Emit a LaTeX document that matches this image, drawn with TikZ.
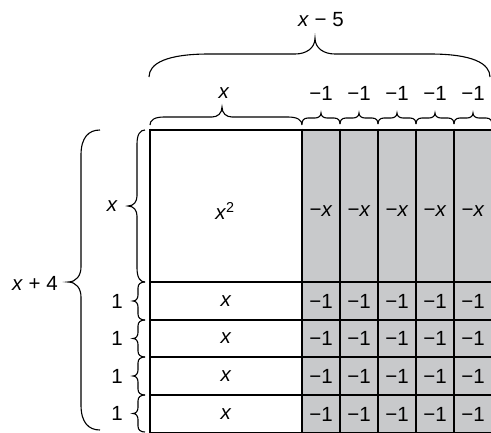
\documentclass[tikz,border=0pt]{standalone}
\usepackage{fontspec}
\setmainfont{Liberation Sans}
\definecolor{cellgray}{RGB}{200,201,203}
% horizontal brace, tip up: x1 x2 y0 xm f h w t
\newcommand{\hbr}[8]{%
  \draw[brc] (#1,#3) .. controls (#1,{#3-0.6*#5}) and ({#1+0.3*#7},{#3-#5}) .. ({#1+#7},{#3-#5})
    -- ({#4-#8},{#3-#5}) .. controls ({#4-0.45*#8},{#3-#5}) and (#4,{#3-#5-0.35*(#6-#5)}) .. (#4,{#3-#6})
    .. controls (#4,{#3-#5-0.35*(#6-#5)}) and ({#4+0.45*#8},{#3-#5}) .. ({#4+#8},{#3-#5})
    -- ({#2-#7},{#3-#5}) .. controls ({#2-0.3*#7},{#3-#5}) and (#2,{#3-0.6*#5}) .. (#2,#3);}
% vertical brace, tip left: y1 y2 x0 ym f h w t
\newcommand{\vbr}[8]{%
  \draw[brc] (#3,#1) .. controls ({#3-0.6*#5},#1) and ({#3-#5},{#1+0.3*#7}) .. ({#3-#5},{#1+#7})
    -- ({#3-#5},{#4-#8}) .. controls ({#3-#5},{#4-0.45*#8}) and ({#3-#5-0.35*(#6-#5)},#4) .. ({#3-#6},#4)
    .. controls ({#3-#5-0.35*(#6-#5)},#4) and ({#3-#5},{#4+0.45*#8}) .. ({#3-#5},{#4+#8})
    -- ({#3-#5},{#2-#7}) .. controls ({#3-#5},{#2-0.3*#7}) and ({#3-0.6*#5},#2) .. (#3,#2);}
\begin{document}
\begin{tikzpicture}[x=1pt,y=-1pt,
  grid/.style={line width=2.8pt, black},
  brc/.style={line width=1.1pt, black},
  lbl/.style={font=\fontsize{20.5}{24}\selectfont, inner sep=0pt}]
\useasboundingbox (0,0) rectangle (491,432);
\clip (0,0) rectangle (491,432);
% shaded region
\fill[cellgray] (302,130) rectangle (495,436);
% grid lines
\foreach \y in {130,282,320,357,395,433} \draw[grid] (150,\y) -- (497,\y);
\foreach \x in {150,302,340,378,416,454} \draw[grid] (\x,128.6) -- (\x,436);
% top braces
\hbr{149}{490}{77}{315}{23}{39}{60}{20}
\hbr{150}{302}{125}{222}{8}{18}{14}{10}
\foreach \k in {0,...,4}{
  \pgfmathsetmacro{\xa}{302+38*\k}
  \pgfmathsetmacro{\xb}{\xa+38}
  \pgfmathsetmacro{\xc}{\xa+19}
  \hbr{\xa}{\xb}{124}{\xc}{6}{11}{6}{6}
}
% left braces
\vbr{130}{430}{100}{282}{19}{32}{25}{15}
\vbr{130}{282}{145}{206}{8}{17}{14}{10}
\vbr{282}{320}{145}{301}{7}{12}{6}{6}
\vbr{320}{357}{145}{338.5}{7}{12}{6}{6}
\vbr{357}{395}{145}{376}{7}{12}{6}{6}
\vbr{395}{432}{145}{413.5}{7}{12}{6}{6}
% labels top
\node[lbl] (tl) at (321,20) {\textit{x} − 5};
\node[lbl] (tx) at (224,93) {\textit{x}};
\foreach \k in {0,...,4}{
  \node[lbl] (tm\k) at ({321+38*\k},93) {−1};
}
% labels left
\node[lbl] (ll) at (35,283) {\textit{x} + 4};
\node[lbl, anchor=east] (lx) at (118,206) {\textit{x}};
\node[lbl, anchor=east] (l1) at (123,301) {1};
\node[lbl, anchor=east] (l2) at (123,338.5) {1};
\node[lbl, anchor=east] (l3) at (123,376) {1};
\node[lbl, anchor=east] (l4) at (123,413.5) {1};
% cell contents
\node[lbl] (sq) at (225,211) {\textit{x}\textsuperscript{2}};
\foreach \k in {0,...,4}{
  \node[lbl] (mx\k) at ({321+38*\k},211) {−\textit{x}};
}
\foreach \r/\yy in {1/301,2/338.5,3/376,4/414}{
  \node[lbl] (rx\r) at (226,\yy) {\textit{x}};
  \foreach \k in {0,...,4}{
    \node[lbl] (c\r\k) at ({321+38*\k},\yy) {−1};
  }
}
\end{tikzpicture}
\end{document}
